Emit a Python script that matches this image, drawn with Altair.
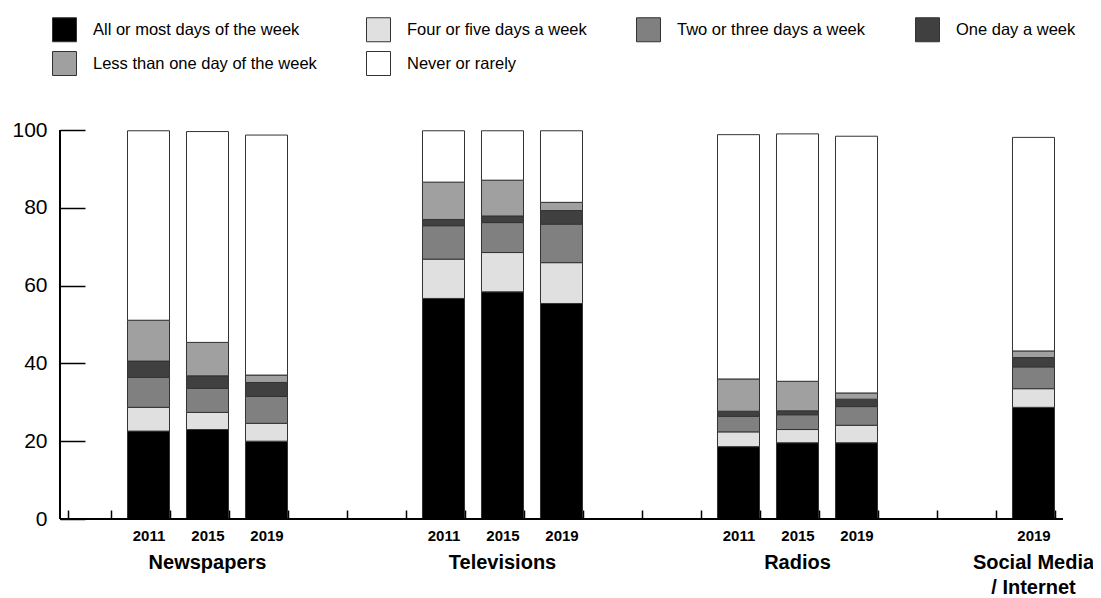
import altair as alt
import pandas as pd

categories = [
    "All or most days of the week",
    "Four or five days a week",
    "Two or three days a week",
    "One day a week",
    "Less than one day of the week",
    "Never or rarely",
]
colors = ["#000000", "#e0e0e0", "#808080", "#404040", "#a0a0a0", "#ffffff"]

media = ["Newspapers", "Televisions", "Radios", "Social Media\n/ Internet"]
media_years = [["2011", "2015", "2019"], ["2011", "2015", "2019"], ["2011", "2015", "2019"], ["2019"]]

# values per category, in bar order (N2011, N2015, N2019, T2011, T2015, T2019, R2011, R2015, R2019, S2019)
all_days = [22.6, 23.0, 20.0, 56.7, 58.4, 55.4, 18.6, 19.6, 19.6, 28.7]
four_five = [6.1, 4.4, 4.6, 10.1, 10.1, 10.5, 3.8, 3.4, 4.5, 4.8]
two_three = [7.7, 6.2, 6.9, 8.6, 7.7, 9.9, 4.0, 3.8, 4.8, 5.6]
one_day = [4.2, 3.2, 3.6, 1.6, 1.7, 3.5, 1.3, 1.0, 1.9, 2.4]
less_one = [10.5, 8.6, 1.9, 9.6, 9.2, 2.1, 8.3, 7.6, 1.6, 1.7]
never = [48.7, 54.2, 61.7, 13.2, 12.7, 18.4, 62.8, 63.6, 66.0, 54.9]
series = [all_days, four_five, two_three, one_day, less_one, never]

y_ticks = [0, 20, 40, 60, 80, 100]

# slot layout: one empty slot at start, groups of 3 slots separated by 2 empty slots
n_slots = 17
slots = ["g%d" % i for i in range(n_slots)]
bar_slots = []
group_label_slots = []
for g, yrs in enumerate(media_years):
    keys = []
    for i, yr in enumerate(yrs):
        idx = 1 + 5 * g + i
        key = "%s%s" % ("NTRS"[g], yr)
        slots[idx] = key
        keys.append(key)
    bar_slots.extend(keys)
    group_label_slots.append(keys[len(keys) // 2])

rows = []
for b, key in enumerate(bar_slots):
    for k, cat in enumerate(categories):
        rows.append({"slot": key, "category": cat, "order": k, "value": series[k][b]})
df = pd.DataFrame(rows)
labels_df = pd.DataFrame({"slot": group_label_slots, "label": media})

FONT = "Liberation Sans"
W, H = 1003, 389

xscale = alt.Scale(domain=slots, paddingInner=0.288, paddingOuter=0.144)
xaxis = alt.Axis(title=None, labelAngle=0,
                 labelExpr="isString(datum.value) && substring(datum.value,0,1) != 'g' ? substring(datum.value,1) : ''",
                 labelFont=FONT, labelFontSize=15, labelFontWeight="bold", labelColor="#000000",
                 tickBand="extent", tickSize=9, offset=-9, domain=False, labelPadding=9,
                 tickColor="#000000", tickWidth=1.5, grid=False)

bars = alt.Chart(df).mark_bar(stroke="#333333", strokeWidth=1).encode(
    x=alt.X("slot:N", scale=xscale, sort=slots, axis=xaxis),
    y=alt.Y("value:Q", stack="zero", scale=alt.Scale(domain=[0, 100], nice=False),
            axis=alt.Axis(title=None, values=y_ticks, offset=-25, tickSize=25, domain=False,
                          labelPadding=13, labelFont=FONT, labelFontSize=21, labelColor="#000000",
                          tickColor="#000000", tickWidth=1.5, grid=False)),
    fill=alt.Fill("category:N", scale=alt.Scale(domain=categories, range=colors),
                  legend=alt.Legend(orient="none", legendX=-8, legendY=-113, columns=4,
                                    direction="horizontal", title=None, symbolType="square",
                                    symbolSize=576, symbolStrokeColor="#333333", symbolStrokeWidth=1,
                                    labelFont=FONT, labelFontSize=16.5, labelColor="#000000",
                                    labelOffset=16, columnPadding=47, rowPadding=5,
                                    labelLimit=400, padding=0)),
    order=alt.Order("order:Q", sort="ascending"),
)

group_text = alt.Chart(labels_df).mark_text(
    font=FONT, fontSize=20, fontWeight="bold", baseline="top", align="center",
    lineBreak="\n", lineHeight=25, color="#000000"
).encode(
    x=alt.X("slot:N", scale=xscale, sort=slots, axis=xaxis),
    y=alt.value(423),
    text="label:N",
)

y_line = alt.Chart(labels_df).mark_rule(color="#000000", strokeWidth=1.5).encode(
    x=alt.value(0), y=alt.value(0), y2=alt.value(H)
)
x_line = alt.Chart(labels_df).mark_rule(color="#000000", strokeWidth=1.5).encode(
    x=alt.value(0), x2=alt.value(W), y=alt.value(H)
)

chart = alt.layer(bars, group_text, y_line, x_line).properties(
    width=W, height=H,
    background="#ffffff",
    autosize=alt.AutoSizeParams(type="none"),
    padding={"left": 52, "top": 122, "right": 30, "bottom": 80},
).configure_view(stroke="transparent", strokeWidth=0)

chart.save("out.html", embed_options={"renderer": "svg", "actions": False})
